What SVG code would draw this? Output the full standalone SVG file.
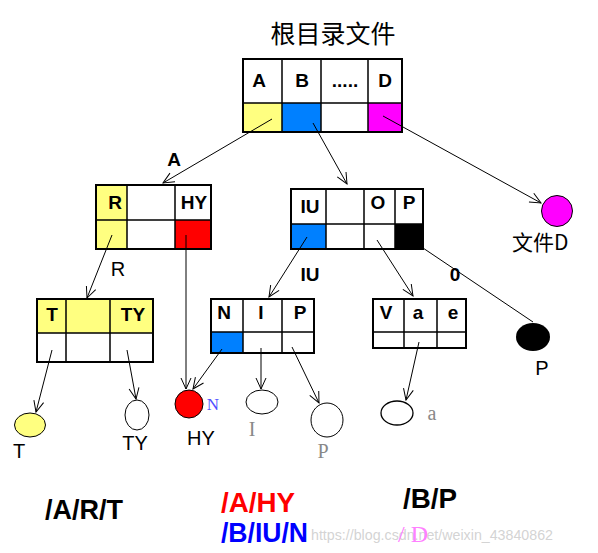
<svg xmlns="http://www.w3.org/2000/svg" width="598" height="553" viewBox="0 0 598 553">
<defs>
<marker id="arr" markerUnits="userSpaceOnUse" markerWidth="14" markerHeight="14" refX="12" refY="6" orient="auto">
<path d="M1,1 L12,6 L1,11" fill="none" stroke="#000" stroke-width="1"/>
</marker>
<style>
.cell{stroke:#000;stroke-width:2;}
.div{stroke:#000;stroke-width:1.5;fill:none;}
.t{font-family:"Liberation Sans",Arial,sans-serif;font-weight:bold;font-size:19px;text-anchor:middle;fill:#000;}
.lbl{font-family:"Liberation Sans",Arial,sans-serif;font-size:20px;text-anchor:middle;fill:#000;}
.ser{font-family:"Liberation Serif","Times New Roman",serif;text-anchor:middle;fill:#888;}
.c{stroke:#000;stroke-width:1;fill:none;marker-end:url(#arr);}
.big{font-family:"Liberation Sans",Arial,sans-serif;font-weight:bold;font-size:28px;}
</style>
</defs>
<rect width="598" height="553" fill="#fff"/>

<g id="root">
<text x="333" y="43" font-family="'Noto Sans CJK SC',sans-serif" font-size="25" text-anchor="middle" fill="#000">根目录文件</text>
<rect x="243" y="59" width="159" height="73" fill="#fff" class="cell"/>
<rect x="243" y="103" width="39" height="29" fill="#ffff80"/>
<rect x="282" y="103" width="39" height="29" fill="#0080ff"/>
<rect x="368" y="103" width="34" height="29" fill="#ff00ff"/>
<rect x="243" y="59" width="159" height="73" fill="none" class="cell"/>
<path class="div" d="M243,103H402M282,59V132M321,59V132M368,59V132"/>
<text class="t" x="259" y="87">A</text>
<text class="t" x="302" y="87">B</text>
<text class="t" x="345" y="87">.....</text>
<text class="t" x="385" y="87">D</text>
</g>

<g id="nodeA">
<rect x="96" y="185" width="115" height="64" fill="#fff"/>
<rect x="96" y="185" width="31" height="64" fill="#ffff80"/>
<rect x="175" y="220" width="36" height="29" fill="#ff0000"/>
<rect x="96" y="185" width="115" height="64" fill="none" class="cell"/>
<path class="div" d="M96,220H211M127,185V249M175,185V249"/>
<text class="t" x="115" y="209">R</text>
<text class="t" x="194" y="209">HY</text>
</g>

<g id="nodeB">
<rect x="291" y="189" width="132" height="60" fill="#fff"/>
<rect x="291" y="224" width="35" height="25" fill="#0080ff"/>
<rect x="395" y="224" width="28" height="25" fill="#000"/>
<rect x="291" y="189" width="132" height="60" fill="none" class="cell"/>
<path class="div" d="M291,224H423M326,189V249M364,189V249M395,189V249"/>
<text class="t" x="310" y="213">IU</text>
<text class="t" x="378" y="209">O</text>
<text class="t" x="409" y="209">P</text>
</g>

<g id="fileD">
<circle cx="557" cy="211" r="15.5" fill="#ff00ff" stroke="#000" stroke-width="1"/>
<text x="512" y="250" font-family="'Noto Sans CJK SC',sans-serif" font-size="21" fill="#000">文件D</text>
</g>

<g id="nodeR">
<rect x="37" y="299" width="116" height="63" fill="#fff"/>
<rect x="37" y="299" width="116" height="34" fill="#ffff80"/>
<rect x="37" y="299" width="116" height="63" fill="none" class="cell"/>
<path class="div" d="M37,333H153M66,299V362M110,299V362"/>
<text class="t" x="52" y="321">T</text>
<text class="t" x="133" y="321">TY</text>
</g>

<g id="nodeIU">
<rect x="211" y="299" width="103" height="54" fill="#fff"/>
<rect x="211" y="332" width="32" height="21" fill="#0080ff"/>
<rect x="211" y="299" width="103" height="54" fill="none" class="cell"/>
<path class="div" d="M211,332H314M243,299V353M282,299V353"/>
<text class="t" x="224" y="319">N</text>
<text class="t" x="261" y="319">I</text>
<text class="t" x="300" y="319">P</text>
</g>

<g id="nodeO">
<rect x="373" y="299" width="93" height="49" fill="#fff" class="cell"/>
<path class="div" d="M373,332H466M404,299V348M437,299V348"/>
<text class="t" x="386" y="319">V</text>
<text class="t" x="418" y="319">a</text>
<text class="t" x="453" y="319">e</text>
</g>

<g id="leafT">
<ellipse cx="30" cy="425" rx="15.5" ry="12" fill="#ffff80" stroke="#000" stroke-width="1"/>
<text class="lbl" x="19" y="458">T</text>
</g>
<g id="leafTY">
<ellipse cx="137" cy="415" rx="12" ry="15" fill="#fff" stroke="#000" stroke-width="1"/>
<text class="lbl" x="135" y="450">TY</text>
</g>
<g id="leafHY">
<circle cx="189" cy="404" r="14" fill="#ff0000" stroke="#000" stroke-width="1"/>
<text x="213" y="410" font-family="'Liberation Serif',serif" font-size="17" text-anchor="middle" fill="#5050ff">N</text>
<text class="lbl" x="201" y="445">HY</text>
</g>
<g id="leafI">
<ellipse cx="262" cy="402" rx="16" ry="12" fill="#fff" stroke="#000" stroke-width="1"/>
<text class="ser" x="252" y="436" font-size="20">I</text>
</g>
<g id="leafP">
<ellipse cx="327" cy="420" rx="16" ry="17" fill="#fff" stroke="#000" stroke-width="1"/>
<text class="ser" x="323" y="458" font-size="20">P</text>
</g>
<g id="leafa">
<ellipse cx="397" cy="413" rx="16" ry="12" fill="#fff" stroke="#000" stroke-width="1.3"/>
<text class="ser" x="432" y="420" font-size="20">a</text>
</g>
<g id="leafP2">
<ellipse cx="533" cy="337" rx="17" ry="14" fill="#000"/>
<text class="lbl" x="542" y="375">P</text>
</g>

<g id="connectors">
<line class="c" x1="272" y1="119" x2="163" y2="183"/>
<line class="c" x1="313" y1="123" x2="347" y2="184"/>
<line class="c" x1="383" y1="116" x2="541" y2="203"/>
<line class="c" x1="112" y1="235" x2="87" y2="298"/>
<line class="c" x1="186" y1="235" x2="186" y2="389" stroke-width="2"/>
<line class="c" x1="52" y1="350" x2="36" y2="412"/>
<line class="c" x1="127" y1="350" x2="136" y2="399"/>
<line class="c" x1="222" y1="349" x2="193" y2="389"/>
<line class="c" x1="261" y1="348" x2="261" y2="389" stroke-width="2"/>
<line class="c" x1="292" y1="347" x2="319" y2="403"/>
<line class="c" x1="419" y1="342" x2="406" y2="400"/>
<line class="c" x1="307" y1="237" x2="269" y2="297"/>
<line class="c" x1="377" y1="240" x2="413" y2="296"/>
<line x1="423" y1="248" x2="533" y2="322" stroke="#000" stroke-width="1"/>
<text class="t" x="174" y="166">A</text>
<text class="lbl" x="118" y="276">R</text>
<text class="t" x="310" y="281">IU</text>
<text class="t" x="455" y="281">0</text>
</g>

<g id="paths">
<text class="big" x="45" y="519" textLength="78" lengthAdjust="spacingAndGlyphs" fill="#000">/A/R/T</text>
<text class="big" x="221" y="512" textLength="74" lengthAdjust="spacingAndGlyphs" fill="#ff0000">/A/HY</text>
<text class="big" x="221" y="542" textLength="87" lengthAdjust="spacingAndGlyphs" fill="#0000ff">/B/IU/N</text>
<text class="big" x="403" y="508" textLength="54" lengthAdjust="spacingAndGlyphs" fill="#000">/B/P</text>
<text x="311" y="540" font-family="'Liberation Sans',Arial,sans-serif" font-size="14" fill="#c8c8c8" fill-opacity="0.8" textLength="242" lengthAdjust="spacingAndGlyphs">https://blog.csdn.net/weixin_43840862</text>
<text x="398" y="542" font-family="'Liberation Serif',serif" font-size="24" fill="#ff80ff">/ D</text>
</g>
</svg>
